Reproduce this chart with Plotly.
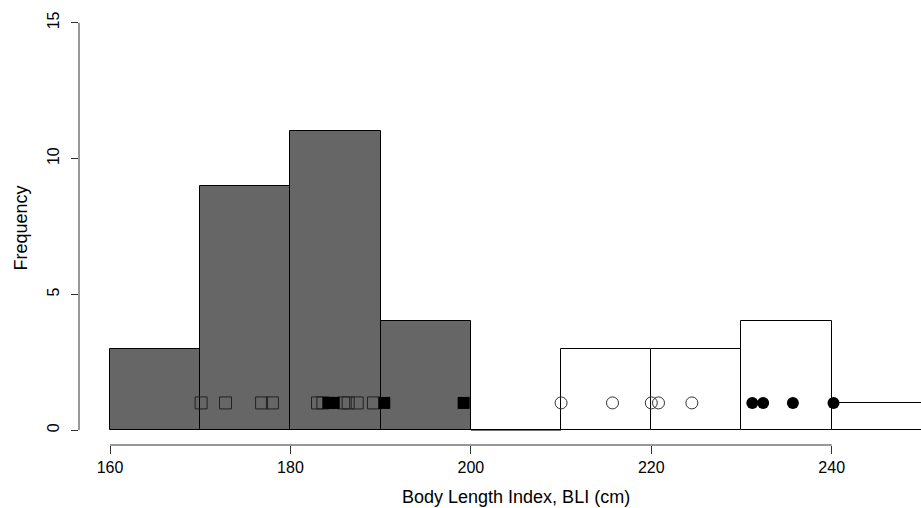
import plotly.graph_objects as go

# Histogram bins (BLI, cm)
bin_width = 10
dark_left_edges = [160, 170, 180, 190]
dark_counts = [3, 9, 11, 4]
white_left_edges = [200, 210, 220, 230, 240]
white_counts = [0, 3, 3, 4, 1]

# Individual specimens plotted at frequency 1
open_squares = [170.1, 172.8, 176.8, 178.0, 183.0, 183.6, 185.9, 186.4, 187.4, 189.2]
filled_squares = [184.2, 184.8, 190.4, 199.2]
open_circles = [210.0, 215.7, 220.0, 220.8, 224.5]
filled_circles = [231.2, 232.4, 235.7, 240.2]
point_level = 1

x_ticks = [160, 180, 200, 220, 240]
y_ticks = [0, 5, 10, 15]

FONT = "Liberation Sans, Arial, sans-serif"

fig = go.Figure()

fig.add_trace(go.Bar(
    x=[e + bin_width / 2 for e in dark_left_edges], y=dark_counts, width=bin_width,
    marker=dict(color="#666666", line=dict(color="black", width=1)), showlegend=False,
))
fig.add_trace(go.Bar(
    x=[e + bin_width / 2 for e in white_left_edges], y=white_counts, width=bin_width,
    marker=dict(color="white", line=dict(color="black", width=1)), showlegend=False,
))
# zero-height bins are drawn as a flat line (as in base R hist)
for e, c in zip(white_left_edges, white_counts):
    if c == 0:
        fig.add_trace(go.Scatter(x=[e, e + bin_width], y=[0, 0], mode="lines",
                                 line=dict(color="black", width=1), showlegend=False))

fig.add_trace(go.Scatter(
    x=open_squares, y=[point_level] * len(open_squares), mode="markers",
    marker=dict(symbol="square-open", size=12, color="#222222", line=dict(width=1)),
    showlegend=False))
fig.add_trace(go.Scatter(
    x=filled_squares, y=[point_level] * len(filled_squares), mode="markers",
    marker=dict(symbol="square", size=12, color="black", line=dict(width=0)),
    showlegend=False))
fig.add_trace(go.Scatter(
    x=open_circles, y=[point_level] * len(open_circles), mode="markers",
    marker=dict(symbol="circle-open", size=12, color="#333333", line=dict(width=1)),
    showlegend=False))
fig.add_trace(go.Scatter(
    x=filled_circles, y=[point_level] * len(filled_circles), mode="markers",
    marker=dict(symbol="circle", size=12, color="black", line=dict(width=0)),
    showlegend=False))

# R-style axis lines spanning only the tick range
fig.add_shape(type="line", xref="x", yref="paper", x0=x_ticks[0], x1=x_ticks[-1], y0=0, y1=0,
              line=dict(color="#333333", width=1))
fig.add_shape(type="line", xref="paper", yref="y", x0=0, x1=0, y0=y_ticks[0], y1=y_ticks[-1],
              line=dict(color="#333333", width=1))

fig.add_annotation(text="Body Length Index, BLI (cm)", xref="x", yref="paper", x=205.05, y=0,
                   yshift=-52, xanchor="center", yanchor="middle", showarrow=False,
                   font=dict(family=FONT, size=18, color="black"))
fig.add_annotation(text="Frequency", xref="paper", yref="paper", x=0, y=0.5, xshift=-59,
                   yshift=-3, textangle=-90, xanchor="center", yanchor="middle", showarrow=False,
                   font=dict(family=FONT, size=18, color="black"))

fig.update_layout(
    width=921, height=508,
    margin=dict(l=79, r=0, t=6, b=63),
    paper_bgcolor="white", plot_bgcolor="white",
    bargap=0,
    barmode="overlay",
    font=dict(family=FONT, size=16, color="black"),
    xaxis=dict(range=[156.56, 249.9], tickvals=x_ticks, ticks="outside", ticklen=8,
               tickcolor="#333333", showgrid=False, zeroline=False, showline=False,
               tickfont=dict(size=16)),
    yaxis=dict(range=[-0.55, 15.62], tickvals=y_ticks, ticks="outside", ticklen=7,
               tickcolor="#333333", showgrid=False, zeroline=False, showline=False,
               tickangle=-90, tickfont=dict(size=16), ticklabelstandoff=6),
)

fig.write_html(
    "out.html",
    config={"displayModeBar": False},
    post_script="document.body.style.margin='0';document.body.style.overflow='hidden';",
)
